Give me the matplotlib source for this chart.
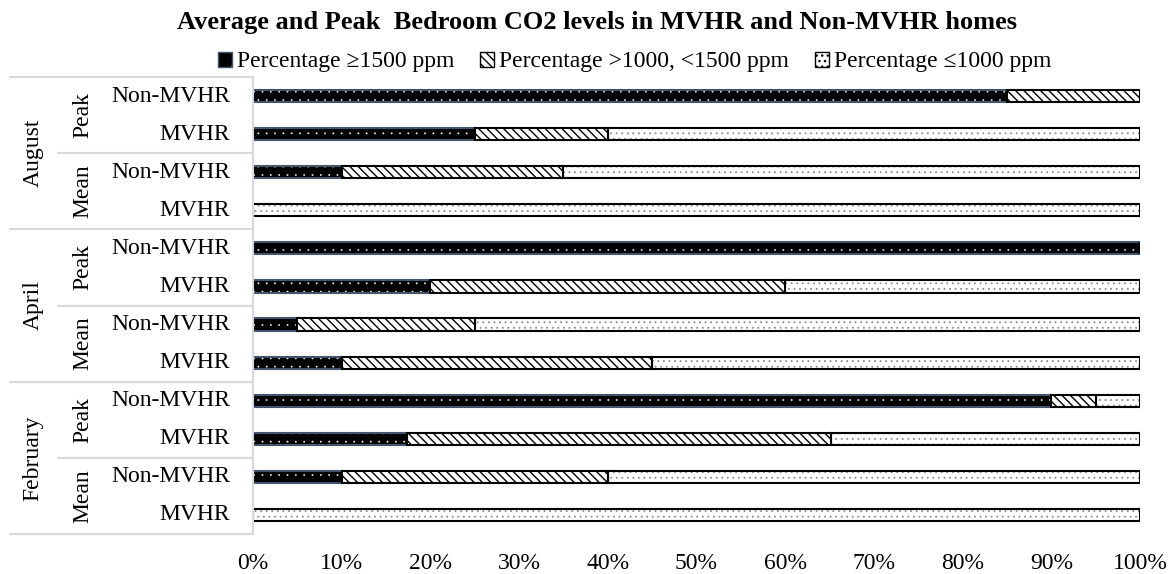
import matplotlib.pyplot as plt
import matplotlib.transforms as mtransforms
from matplotlib.patches import Patch
import numpy as np

plt.rcParams['font.family'] = ['Liberation Serif', 'DejaVu Serif']

# rows from bottom to top
months = ["February", "April", "August"]
stats = ["Mean", "Peak"]
homes = ["MVHR", "Non-MVHR"]
row_labels = [h for m in months for s in stats for h in homes]

high = [0, 10, 17.4, 90, 10, 5, 20, 100, 0, 10, 25, 85]
mid = [0, 30, 47.8, 5, 35, 20, 40, 0, 0, 25, 15, 15]
low = [100, 60, 34.8, 5, 55, 75, 40, 0, 100, 65, 60, 0]

series_names = ["Percentage \u22651500 ppm", "Percentage >1000, <1500 ppm",
                "Percentage \u22641000 ppm"]

fig = plt.figure(figsize=(11.75, 5.74), dpi=100)
ax = fig.add_axes([253 / 1175, 1 - 534 / 574, 887 / 1175, 457 / 574])

y = np.arange(len(row_labels))
h = 0.32
hi = np.array(high) / 100
md = np.array(mid) / 100
lo = np.array(low) / 100

# black with small white dots
plt.rcParams['hatch.linewidth'] = 0.1
ax.barh(y, hi, h, color="black", edgecolor="white", hatch="..", linewidth=0)
ax.barh(y, hi, h, fill=False, edgecolor="#44546A", linewidth=1.5)
# light dotted
plt.rcParams['hatch.linewidth'] = 0.6
ax.barh(y, lo, h, left=hi + md, color="white", edgecolor="#8c8c8c", hatch="...", linewidth=0)
ax.barh(y, lo, h, left=hi + md, fill=False, edgecolor="black", linewidth=1.5)
# diagonal hatch
plt.rcParams['hatch.linewidth'] = 1.0
ax.barh(y, md, h, left=hi, color="white", edgecolor="black", hatch="\\\\\\\\", linewidth=1.5)

ax.set_xlim(0, 1)
ax.set_ylim(-0.5, len(row_labels) - 0.5)
ticks = np.arange(0, 1.01, 0.1)
ax.set_xticks(ticks)
ax.set_xticklabels([f"{int(round(v * 100))}%" for v in ticks], fontsize=17)
ax.tick_params(axis="x", length=0, pad=14)
ax.set_yticks([])
for s in ["top", "right", "bottom"]:
    ax.spines[s].set_visible(False)
ax.spines["left"].set_color("#d9d9d9")
ax.spines["left"].set_linewidth(1.5)

# category table on the left
tr = mtransforms.blended_transform_factory(ax.transAxes, ax.transData)
x_month, x_stat, x_name = -0.248, -0.192, -0.026
x_outer, x_inner = -0.274, -0.220
for i, lab in enumerate(row_labels):
    ax.text(x_name, i, lab, transform=tr, ha="right", va="center", fontsize=17)
for k in range(len(months) * len(stats)):
    ax.text(x_stat, 2 * k + 0.5, stats[k % 2], transform=tr, ha="center", va="center",
            rotation=90, fontsize=17)
for k, m in enumerate(months):
    ax.text(x_month, 4 * k + 1.5, m, transform=tr, ha="center", va="center",
            rotation=90, fontsize=17)
for yy in np.arange(-0.5, len(row_labels), 2):
    x0 = x_outer if (yy + 0.5) % 4 == 0 else x_inner
    ax.plot([x0, 0], [yy, yy], transform=tr, color="#d9d9d9", lw=1.5, clip_on=False)

handles = [
    Patch(facecolor="black", edgecolor="#44546A", hatch=".", label=series_names[0]),
    Patch(facecolor="white", edgecolor="black", hatch="\\\\\\\\", label=series_names[1]),
    Patch(facecolor="white", edgecolor="black", hatch="...", label=series_names[2]),
]
fig.legend(handles=handles, loc="center", bbox_to_anchor=(0.540, 1 - 62 / 574), ncol=3,
           frameon=False, fontsize=17, handlelength=0.6, handleheight=0.6,
           handletextpad=0.2, columnspacing=1.1)

fig.suptitle("Average and Peak  Bedroom CO2 levels in MVHR and Non-MVHR homes",
             x=0.508, y=1 - 23 / 574, va="center", fontsize=19, fontweight="bold")

fig.savefig("out.png", dpi=100)
